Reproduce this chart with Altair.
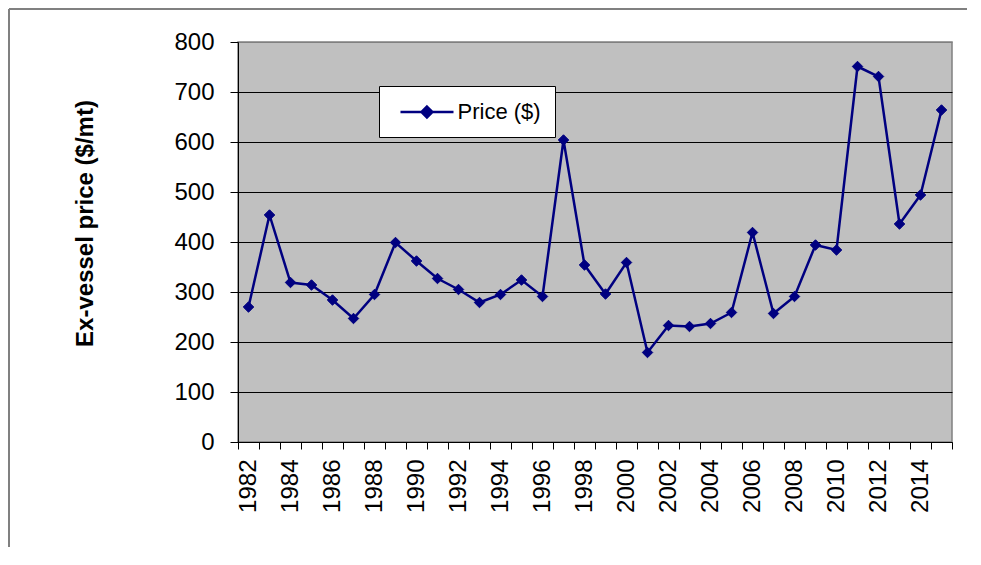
import altair as alt
import pandas as pd

years = list(range(1982, 2016))
prices = [270, 454, 319, 314, 284, 247, 295, 399, 362, 327, 305, 279, 295, 324,
          291, 604, 354, 296, 359, 179, 233, 231, 237, 259, 419, 257, 291, 394,
          384, 751, 731, 436, 494, 664]
series_name = "Price ($)"
y_ticks = [0, 100, 200, 300, 400, 500, 600, 700, 800]

df = pd.DataFrame({"year": years, "price": prices, "series": [series_name] * len(years)})

NAVY = "#000080"
FONT = "Liberation Sans"

x_enc = alt.X(
    "year:O",
    bandPosition=0.5,
    scale=alt.Scale(type="band", paddingInner=0, paddingOuter=0),
    axis=alt.Axis(
        title=None,
        tickBand="extent",
        labelAngle=-90,
        labelExpr="datum.value % 2 == 0 ? datum.label : ''",
        labelFontSize=24,
        labelFont=FONT,
        labelColor="black",
        labelPadding=10,
        tickSize=7,
        tickColor="black",
        domainColor="black",
        domainWidth=1,
        grid=False,
    ),
)
y_enc = alt.Y(
    "price:Q",
    scale=alt.Scale(domain=[0, 800], nice=False, zero=True),
    axis=alt.Axis(
        title="Ex-vessel price ($/mt)",
        values=y_ticks,
        titleFont=FONT,
        titleFontSize=24,
        titleFontWeight="bold",
        titleColor="black",
        titleX=-153,
        titleY=181,
        titleBaseline="middle",
        labelFontSize=24,
        labelFont=FONT,
        labelColor="black",
        labelPadding=16,
        tickSize=8,
        tickColor="black",
        domainColor="black",
        domainWidth=1,
        grid=True,
        gridColor=alt.expr("datum.value === 800 ? '#808080' : '#000000'"),
        gridWidth=1,
        gridOpacity=1,
    ),
)

line = alt.Chart(df).mark_line(strokeWidth=2.5).encode(
    x=x_enc,
    y=y_enc,
    color=alt.Color(
        "series:N",
        scale=alt.Scale(range=[NAVY]),
        legend=alt.Legend(
            title=None,
            orient="none",
            legendX=141,
            legendY=44,
            padding=14,
            fillColor="white",
            strokeColor="black",
            labelFont=FONT,
            labelFontSize=22,
            labelColor="black",
            labelOffset=40.5,
            symbolType="M-0.43,0L4.62,0M2.09,-0.52L2.61,0L2.09,0.52L1.57,0Z",
            symbolSize=441,
            symbolStrokeWidth=2.5,
            symbolFillColor=NAVY,
            symbolStrokeColor=NAVY,
        ),
    ),
)

points = alt.Chart(df).mark_point(
    shape="diamond", filled=True, size=110, color=NAVY, opacity=1,
    stroke=NAVY, strokeWidth=1
).encode(x=x_enc, y=y_enc)

frame_left = alt.Chart(df).mark_rule(stroke="#808080", strokeWidth=1.5).encode(
    x=alt.value(-229), y=alt.value(-33), y2=alt.value(800)
)
frame_top = alt.Chart(df).mark_rule(stroke="#808080", strokeWidth=1.5).encode(
    x=alt.value(-229), x2=alt.value(1000), y=alt.value(-33)
)

chart = alt.layer(line, points, frame_left, frame_top).properties(
    width=714,
    height=400,
    background="white",
    autosize=alt.AutoSizeParams(type="none"),
    padding={"left": 230, "top": 34, "right": 15, "bottom": 105},
).configure_view(
    fill="#C0C0C0", stroke="#808080", strokeWidth=1.5
)

chart.save("out.html", embed_options={"renderer": "svg", "actions": False})
